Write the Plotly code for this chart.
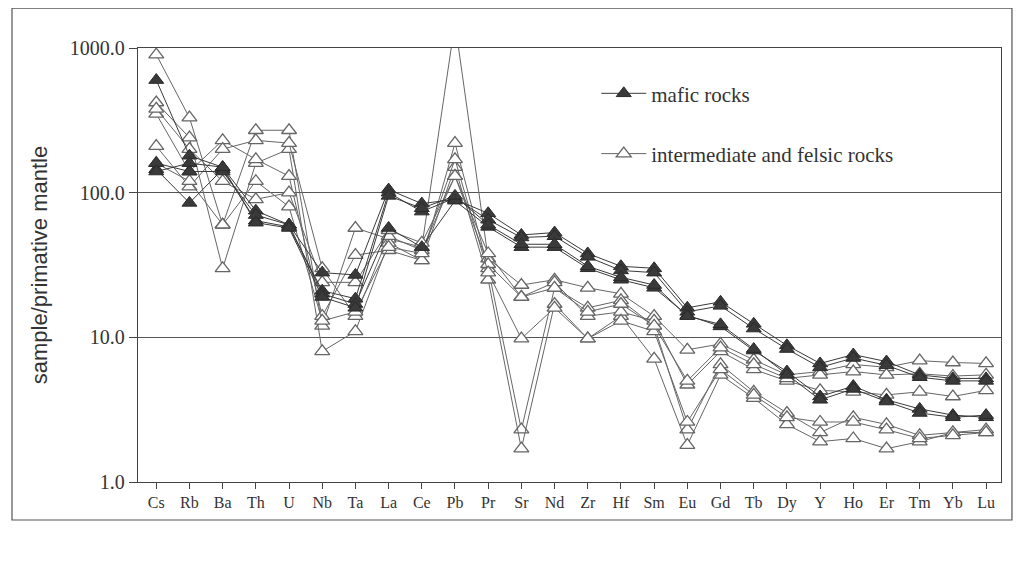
import plotly.graph_objects as go

elements = ["Cs", "Rb", "Ba", "Th", "U", "Nb", "Ta", "La", "Ce", "Pb", "Pr", "Sr", "Nd",
            "Zr", "Hf", "Sm", "Eu", "Gd", "Tb", "Dy", "Y", "Ho", "Er", "Tm", "Yb", "Lu"]

# mafic rocks (filled triangles)
mafic_1 = [600, 180, 150, 75, 60, 28, 27, 105, 84, 90, 72, 51, 53, 38, 31, 30, 16, 17.6, 12.4, 8.8, 6.6, 7.6, 6.8, 5.5, 5.2, 5.2]
mafic_2 = [145, 85, 145, 64, 58, 21, 18.5, 100, 74, 92, 65, 49, 50, 36, 29, 28, 15, 16.5, 11.5, 8.3, 6.2, 7.2, 6.4, 5.3, 5.0, 5.0]
mafic_3 = [160, 140, 140, 70, 60, 20, 17, 57, 42, 88, 58, 42, 42, 30, 25, 22, 14.2, 11.9, 8.1, 5.8, 3.9, 4.6, 3.7, 3.2, 2.9, 2.8]
mafic_4 = [140, 160, 150, 62, 57, 19, 16, 95, 78, 95, 60, 44, 44, 31, 26, 23, 14, 12.3, 8.3, 5.5, 3.7, 4.4, 3.6, 3.0, 2.8, 2.9]

# intermediate and felsic rocks (open triangles)
felsic_1 = [900, 330, 60, 270, 270, 12, 57, 48, 42, 1500, 35, 23, 25, 22, 20, 14, 8.2, 9, 7, 5.5, 5.8, 6.5, 6.2, 6.9, 6.7, 6.6]
felsic_2 = [420, 240, 30, 160, 200, 8, 11, 45, 34, 220, 30, 2.3, 22, 16, 18, 12, 2.3, 6.5, 4.2, 3.0, 2.2, 2.8, 2.5, 2.1, 2.2, 2.3]
felsic_3 = [350, 140, 230, 170, 130, 14, 37, 40, 34, 150, 25, 1.7, 17, 9.8, 14, 7.1, 1.8, 5.5, 3.8, 2.5, 1.9, 2.0, 1.7, 1.9, 2.2, 2.2]
felsic_4 = [210, 110, 200, 230, 220, 30, 14, 50, 40, 130, 32, 19, 24, 14, 15, 13, 4.7, 8, 6, 5, 4.3, 4.2, 4.0, 4.2, 3.9, 4.3]
felsic_5 = [160, 120, 60, 120, 80, 13, 15, 42, 38, 170, 28, 9.8, 16, 9.8, 13, 11, 2.6, 6, 4.0, 2.8, 2.6, 2.6, 2.3, 2.0, 2.1, 2.2]
felsic_6 = [380, 200, 120, 90, 100, 24, 24, 55, 45, 130, 38, 19, 22, 15, 17, 12, 5.0, 8.5, 6.5, 5.2, 5.5, 5.8, 5.5, 5.6, 5.4, 5.5]

mafic_series = [mafic_1, mafic_2, mafic_3, mafic_4]
felsic_series = [felsic_1, felsic_2, felsic_3, felsic_4, felsic_5, felsic_6]

x_idx = list(range(len(elements)))
fig = go.Figure()

for i, s in enumerate(felsic_series):
    fig.add_trace(go.Scatter(
        x=x_idx, y=s, mode="lines+markers",
        name="intermediate and felsic rocks", legendgroup="f",
        showlegend=(i == 0), legendrank=2,
        line=dict(color="#666666", width=1),
        marker=dict(symbol="triangle-up", size=13, color="white",
                    line=dict(color="#666666", width=1.3)),
    ))

for i, s in enumerate(mafic_series):
    fig.add_trace(go.Scatter(
        x=x_idx, y=s, mode="lines+markers",
        name="mafic rocks", legendgroup="m",
        showlegend=(i == 0), legendrank=1,
        line=dict(color="#3a3a3a", width=1),
        marker=dict(symbol="triangle-up", size=13, color="#3a3a3a",
                    line=dict(color="#2a2a2a", width=1)),
    ))

fig.update_layout(
    width=1013, height=560,
    margin=dict(l=130, r=20, t=40, b=86),
    paper_bgcolor="white", plot_bgcolor="white",
    font=dict(family="Liberation Serif", color="#333333"),
    legend=dict(x=0.531, y=0.942, xanchor="left", yanchor="top",
                bgcolor="rgba(0,0,0,0)", tracegroupgap=30, itemwidth=45,
                font=dict(family="Liberation Serif", size=21, color="#333333"),
                traceorder="grouped"),
    shapes=[dict(type="rect", xref="paper", yref="paper",
                 x0=-0.146, x1=1.0127, y0=-0.0876, y1=1.092,
                 line=dict(color="#555555", width=1.2))],
)

fig.update_xaxes(
    tickmode="array", tickvals=x_idx, ticktext=elements,
    range=[-0.55, 25.45], showgrid=False, zeroline=False,
    showline=True, linecolor="#444444", linewidth=1.3, mirror=True,
    ticks="outside", ticklen=6, tickcolor="#444444",
    tickfont=dict(family="Liberation Serif", size=16, color="#333333"),
)
fig.update_yaxes(
    type="log", range=[0, 3],
    tickmode="array", tickvals=[1, 10, 100, 1000],
    ticktext=["1.0", "10.0", "100.0", "1000.0"],
    showgrid=True, gridcolor="#555555", gridwidth=1.3, zeroline=False,
    showline=True, linecolor="#444444", linewidth=1.3, mirror=True,
    ticks="outside", ticklen=8, tickcolor="#444444",
    tickfont=dict(family="Liberation Serif", size=20, color="#333333"),
    title=dict(text="sample/primative mantle", standoff=16,
               font=dict(family="Liberation Sans", size=22, color="#333333")),
)

fig.write_html("out.html")
